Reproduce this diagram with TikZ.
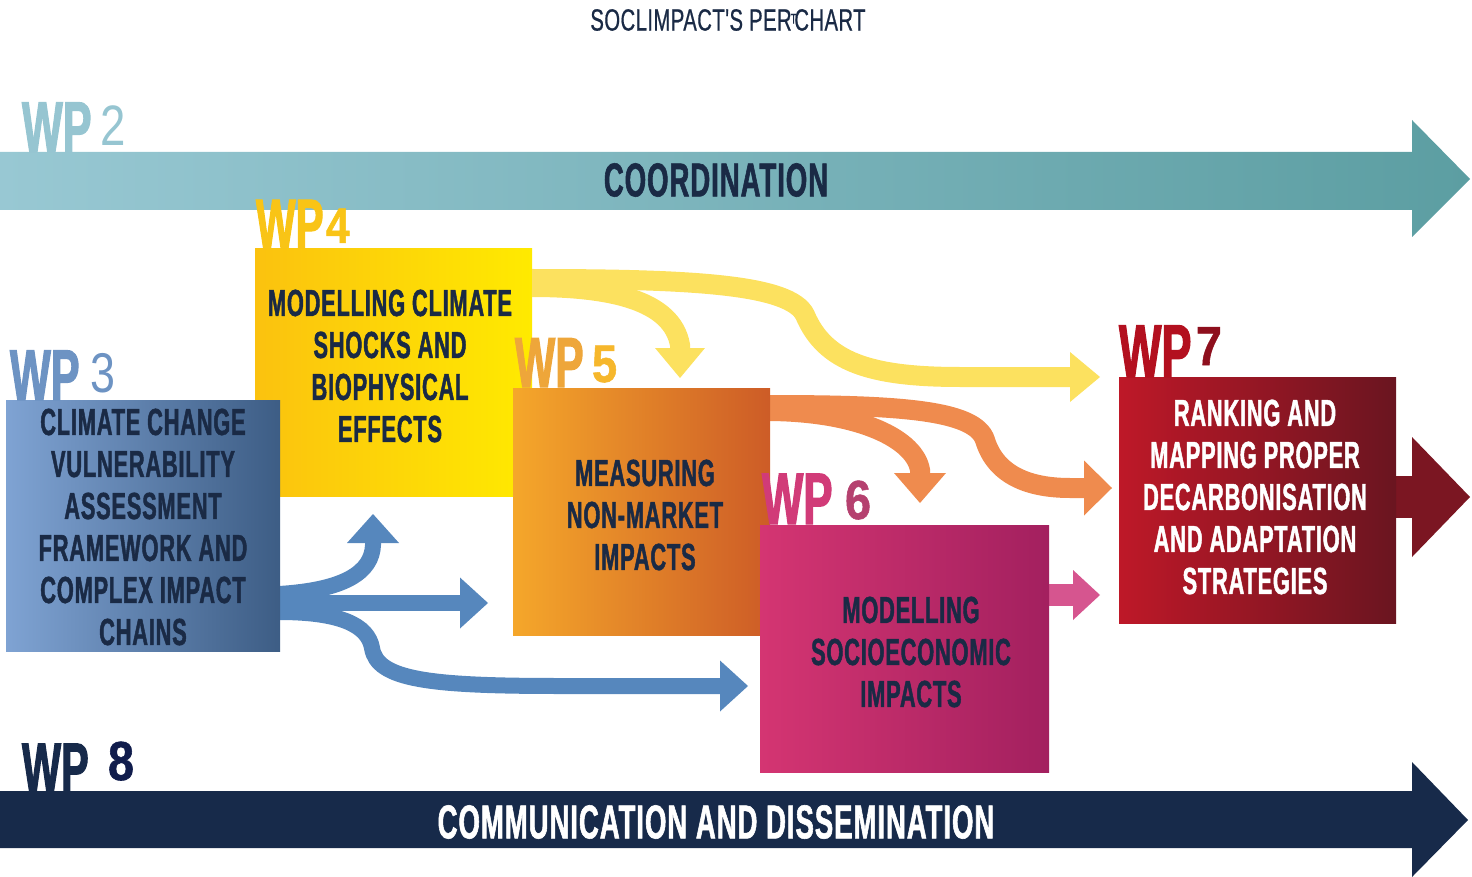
\documentclass[tikz,border=0pt]{standalone}
\usepackage{fontspec}
\newfontfamily\cond[FakeStretch=0.58,FakeBold=1.2,LetterSpace=2]{Liberation Sans Bold}
\newfontfamily\condr[FakeStretch=0.66,FakeBold=0.6,LetterSpace=1.5]{Liberation Sans}
\newfontfamily\wpfam[FakeStretch=0.6,FakeBold=1.5]{Liberation Sans Bold}
\newfontfamily\digb[FakeStretch=0.85,FakeBold=1]{Liberation Sans Bold}
\newfontfamily\digr[FakeStretch=0.8]{Liberation Sans}
\usetikzlibrary{arrows.meta}
\definecolor{navy}{HTML}{1A2A45}
\definecolor{wptwo}{HTML}{96C5D1}
\definecolor{bandL}{HTML}{98C8D3}
\definecolor{bandM}{HTML}{8EC0CA}
\definecolor{bandR}{HTML}{5C9EA2}
\definecolor{bandD}{HTML}{172A4A}
\definecolor{wpthree}{HTML}{6D93C3}
\definecolor{bL}{HTML}{7FA3D3}
\definecolor{bR}{HTML}{3D5D85}
\definecolor{yL}{HTML}{FBC20F}
\definecolor{yR}{HTML}{FFEA00}
\definecolor{wpfour}{HTML}{F9C416}
\definecolor{oL}{HTML}{F5A72A}
\definecolor{oR}{HTML}{CD5C27}
\definecolor{wpfive}{HTML}{EEA63A}
\definecolor{wpfived}{HTML}{F6B72C}
\definecolor{pL}{HTML}{D43572}
\definecolor{pR}{HTML}{A3205F}
\definecolor{wpsix}{HTML}{D13B78}
\definecolor{wpsixd}{HTML}{B5416F}
\definecolor{rL}{HTML}{BE1828}
\definecolor{rR}{HTML}{6A1520}
\definecolor{wpseven}{HTML}{B3101F}
\definecolor{wpsevend}{HTML}{8E0F1D}
\definecolor{wpeightd}{HTML}{101C4C}
\definecolor{yelc}{HTML}{FCE15F}
\definecolor{orac}{HTML}{EF8B4E}
\definecolor{pinkc}{HTML}{D6558F}
\definecolor{bluc}{HTML}{5687BD}
\definecolor{redc}{HTML}{7B1622}
\begin{document}
\begin{tikzpicture}[x=1pt,y=-1pt,
  lbl/.style={inner sep=0,outer sep=0,anchor=base west},
  wpf/.style={font=\wpfam\fontsize{#1}{#1}\selectfont},
  dgb/.style={font=\digb\fontsize{#1}{#1}\selectfont},
  dgr/.style={font=\digr\fontsize{#1}{#1}\selectfont},
  boxtext/.style={inner sep=0,outer sep=0,align=center,font=\cond\fontsize{37.7}{42}\selectfont},
  wpbox/.style={inner sep=0,outer sep=0,draw=none},
]
\useasboundingbox (0,0) rectangle (1472,877);

% title
\node[inner sep=0, text=navy, font=\condr\fontsize{30.7}{31}\selectfont] (title) at (728,20)
  {SOCLIMPACT'S PER\kern-1pt\raisebox{7pt}{\fontsize{14}{14}\selectfont T}\kern-2pt CHART};

% WP2 band
\shade[left color=bandL, middle color=bandM, right color=bandR]
  (0,152) -- (1412,152) -- (1412,120) -- (1470,179) -- (1412,237) -- (1412,210) -- (0,210) -- cycle;
\node[inner sep=0, text=navy, font=\cond\fontsize{47.5}{48}\selectfont] (coord) at (716,180) {COORDINATION};

% WP8 band
\fill[bandD] (0,791) -- (1412,791) -- (1412,762) -- (1468,820) -- (1412,877) -- (1412,848) -- (0,848) -- cycle;
\node[inner sep=0, text=white, font=\cond\fontsize{47.5}{48}\selectfont] (comm) at (716,822) {COMMUNICATION AND DISSEMINATION};

% boxes (positions)
\node[wpbox, left color=yL, right color=yR, minimum width=277, minimum height=247] (wp4) at (393.5,372.5) {};
% end coordinates of connectors
\coordinate (t45) at (680,378);
\coordinate (t47) at (1100,377);
\coordinate (t56) at (920,503);
\coordinate (t57) at (1112,488);
\coordinate (t67) at (1100,595);
\coordinate (t34) at (373,514);
\coordinate (t35) at (488,603);
\coordinate (t36) at (748,686);
\coordinate (t7o) at (1470,497);

% yellow connectors
\draw[yelc, line width=20pt, -{Triangle[width=50pt,length=30pt,line width=0pt]}]
  ([yshift=-38pt]wp4.north east) .. controls (610,287) and (672,300) .. (680,345) -- (t45);
\draw[yelc, line width=20pt, -{Triangle[width=50pt,length=30pt,line width=0pt]}]
  ([yshift=-30pt]wp4.north east) .. controls (690,279) and (790,284) .. (805,315)
  .. controls (825,362) and (870,377) .. (960,377) -- (t47);

% orange connectors
\draw[orac, line width=20pt, -{Triangle[width=52pt,length=30pt,line width=0pt]}]
  (770,411) .. controls (862,412) and (915,440) .. (920,470) -- (t56);
\draw[orac, line width=20pt, -{Triangle[width=55pt,length=28pt,line width=0pt]}]
  (770,405) .. controls (900,405) and (975,410) .. (985,440)
  .. controls (996,476) and (1030,488) .. (1070,488) -- (t57);

% blue connectors
\draw[bluc, line width=16pt, -{Triangle[width=52pt,length=29pt,line width=0pt]}]
  (279,594) .. controls (345,590) and (372,572) .. (373,545) -- (t34);
\draw[bluc, line width=16pt, -{Triangle[width=51pt,length=28pt,line width=0pt]}]
  (279,603) -- (t35);
\draw[bluc, line width=16pt, -{Triangle[width=51pt,length=28pt,line width=0pt]}]
  (279,612) .. controls (340,612) and (368,625) .. (372,648)
  .. controls (377,680) and (430,686) .. (560,686) -- (t36);

% pink connector
\draw[pinkc, line width=22pt, -{Triangle[width=50pt,length=27pt,line width=0pt]}]
  (1049,595) -- (t67);

% WP7 outgoing
\draw[redc, line width=42pt, -{Triangle[width=120pt,length=58pt,line width=0pt]}]
  (1390,497) -- (t7o);

% WP3 box
\node[wpbox, left color=bL, right color=bR, minimum width=274, minimum height=251] (wp3) at (143,525.5) {};
% WP5 box
\node[wpbox, left color=oL, right color=oR, minimum width=257, minimum height=247] (wp5) at (641.5,511.5) {};
% WP6 box
\node[wpbox, left color=pL, right color=pR, minimum width=289, minimum height=247] (wp6) at (904.5,648.5) {};
% WP7 box
\node[wpbox, left color=rL, right color=rR, minimum width=277, minimum height=246] (wp7) at (1257.5,500) {};

% box texts
\node[boxtext, text=navy] (wp3t) at (143,527) {CLIMATE CHANGE\\VULNERABILITY\\ASSESSMENT\\FRAMEWORK AND\\COMPLEX IMPACT\\CHAINS};
\node[boxtext, text=navy] (wp4t) at (390,366) {MODELLING CLIMATE\\SHOCKS AND\\BIOPHYSICAL\\EFFECTS};
\node[boxtext, text=navy] (wp5t) at (645,515) {MEASURING\\NON-MARKET\\IMPACTS};
\node[boxtext, text=navy] (wp6t) at (911,652) {MODELLING\\SOCIOECONOMIC\\IMPACTS};
\node[boxtext, text=white] (wp7t) at (1255,497) {RANKING AND\\MAPPING PROPER\\DECARBONISATION\\AND ADAPTATION\\STRATEGIES};

% WP labels
\node[lbl, wpf=72, text=wptwo] (l2) at (22,152) {WP};
\node[lbl, dgr=57, text=wptwo] (l2d) at (100,146) {2};
\node[lbl, wpf=72, text=wpthree] (l3) at (10,400) {WP};
\node[lbl, dgr=56, text=wpthree] (l3d) at (90,392) {3};
\node[lbl, wpf=70, text=wpfour] (l4) at (256,248) {WP};
\node[lbl, dgb=50, text=wpfour] (l4d) at (326,243) {4};
\node[lbl, wpf=71, text=wpfive] (l5) at (515,387) {WP};
\node[lbl, dgb=53, text=wpfived] (l5d) at (592,382) {5};
\node[lbl, wpf=73, text=wpsix] (l6) at (762,524) {WP};
\node[lbl, dgb=55, text=wpsixd] (l6d) at (845,519) {6};
\node[lbl, wpf=75, text=wpseven] (l7) at (1119,377) {WP};
\node[lbl, dgb=55, text=wpsevend] (l7d) at (1196,365) {7};
\node[lbl, wpf=69, text=bandD] (l8) at (22,791) {WP};
\node[lbl, dgb=55, text=wpeightd] (l8d) at (108,780) {8};
\end{tikzpicture}
\end{document}
